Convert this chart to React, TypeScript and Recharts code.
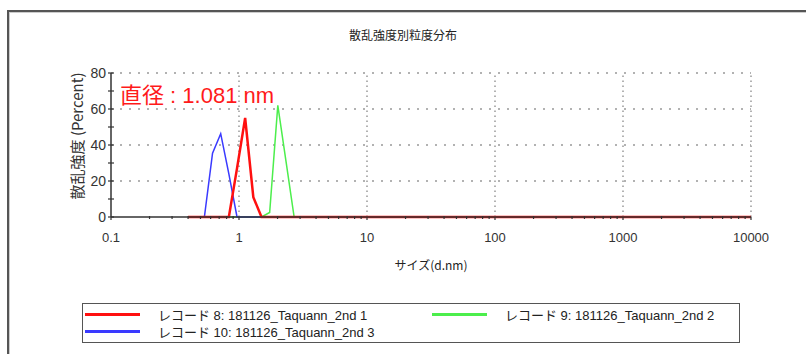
import React from 'react';
import { LineChart, Line, XAxis, YAxis, ReferenceLine } from 'recharts';

// particle size bins (d.nm) and scattering intensity (%) per record
const SIZES = [0.4, 0.4632, 0.5365, 0.6213, 0.7195, 0.8332, 0.9649, 1.117, 1.294, 1.499, 1.736, 2.01, 2.328, 2.696, 3.122, 10000];
const REC8 = [0, 0, 0, 0, 0, 0, 27, 55, 11, 0, 0, 0, 0, 0, 0, 0];
const REC9 = [0, 0, 0, 0, 0, 0, 0, 0, 0, 0, 2.5, 62, 31, 0, 0, 0];
const REC10 = [0, 0, 0, 35.5, 46.3, 24, 0, 0, 0, 0, 0, 0, 0, 0, 0, 0];

const X_DECADES = [0.1, 1, 10, 100, 1000, 10000];
const X_MINOR_STEPS = [2, 3, 4, 5, 6, 7, 8, 9];
const Y_TICKS = [0, 10, 20, 30, 40, 50, 60, 70, 80];
const Y_GRID = [20, 40, 60, 80];

const TITLE = '散乱強度別粒度分布';
const X_LABEL = 'サイズ(d.nm)';
const Y_LABEL = '散乱強度 (Percent)';
const NOTE = '直径 : 1.081 nm';

const SERIES = [
  { key: 'rec9', name: 'レコード 9: 181126_Taquann_2nd 2', color: '#4cee4c', width: 1.5 },
  { key: 'rec10', name: 'レコード 10: 181126_Taquann_2nd 3', color: '#3a3aff', width: 1.5 },
  { key: 'rec8', name: 'レコード 8: 181126_Taquann_2nd 1', color: '#ff1010', width: 2.5 },
];
const LEGEND_ORDER = ['rec8', 'rec9', 'rec10'];

const data = SIZES.map((size, i) => ({ size, rec8: REC8[i], rec9: REC9[i], rec10: REC10[i] }));

const xTicks = [
  ...X_DECADES,
  ...X_DECADES.slice(0, -1).flatMap(d => X_MINOR_STEPS.map(s => d * s)),
];

const FONT = "'Liberation Sans', 'Noto Sans CJK JP', Arial, sans-serif";
const CJK = "'Noto Sans CJK JP', 'Liberation Sans', sans-serif";

const XTick = (props: any) => {
  const { x, y, payload } = props;
  const major = X_DECADES.includes(payload.value);
  return (
    <g>
      <line x1={x} x2={x} y1={y - (major ? 0 : 1)} y2={y + (major ? 3 : 2)} stroke="#333" strokeWidth={1.2} />
      {major && (
        <text x={x} y={y + 25} textAnchor="middle" fill="#333" fontSize={13} fontFamily={FONT}>
          {payload.value}
        </text>
      )}
    </g>
  );
};

const YTick = (props: any) => {
  const { x, y, payload } = props;
  return (
    <g>
      <line x1={x - 3} x2={x + 3} y1={y} y2={y} stroke="#333" strokeWidth={1.2} />
      {payload.value % 20 === 0 && (
        <text x={x - 5} y={y + 5} textAnchor="end" fill="#333" fontSize={14} fontFamily={FONT}>
          {payload.value}
        </text>
      )}
    </g>
  );
};

export default function App() {
  const byKey = Object.fromEntries(SERIES.map(s => [s.key, s]));
  return (
    <div style={{ position: 'absolute', left: 0, top: 0, width: 806, height: 354, background: '#fff', overflow: 'hidden', fontFamily: FONT }}>
      <div style={{ position: 'absolute', left: 7, top: 10, width: 820, height: 360, borderLeft: '2px solid #555', borderTop: '2px solid #555', boxShadow: 'inset 1px 1px 0 #ccc' }} />
      <div style={{ position: 'absolute', left: 0, width: 806, top: 26, textAlign: 'center', fontSize: 12, color: '#222', fontFamily: CJK }}>{TITLE}</div>

      <div style={{ position: 'absolute', left: 0, top: 0 }}>
        <LineChart width={806} height={354} data={data} margin={{ top: 73, left: 71, right: 55, bottom: 97 }}>
          {Y_GRID.map(v => (
            <ReferenceLine key={'h' + v} y={v} stroke="#999" strokeDasharray="2 7" strokeWidth={1.5} />
          ))}
          {X_DECADES.slice(1).map(v => (
            <ReferenceLine key={'v' + v} x={v} stroke="#999" strokeDasharray="1.5 3.5" strokeWidth={1.5} />
          ))}
          <XAxis
            dataKey="size"
            type="number"
            scale="log"
            domain={[0.1, 10000]}
            allowDataOverflow
            ticks={xTicks}
            interval={0}
            height={40}
            tickSize={0}
            tickMargin={0}
            tickLine={false}
            tick={<XTick />}
            axisLine={{ stroke: '#333', strokeWidth: 1.5 }}
          />
          <YAxis
            type="number"
            domain={[0, 80]}
            ticks={Y_TICKS}
            interval={0}
            width={40}
            tickSize={0}
            tickMargin={0}
            tickLine={false}
            tick={<YTick />}
            axisLine={{ stroke: '#333', strokeWidth: 1.5 }}
          />
          {SERIES.map(s => (
            <Line
              key={s.key}
              type="linear"
              dataKey={s.key}
              name={s.name}
              stroke={s.color}
              strokeWidth={s.width}
              dot={false}
              isAnimationActive={false}
            />
          ))}
        </LineChart>
      </div>

      <div style={{ position: 'absolute', left: 76, top: 136, transform: 'translate(-50%, -50%) rotate(-90deg)', whiteSpace: 'nowrap', fontSize: 15, color: '#333', fontFamily: CJK }}>
        {Y_LABEL}
      </div>
      <div style={{ position: 'absolute', left: 111, width: 640, top: 256, textAlign: 'center', fontSize: 12, color: '#222', fontFamily: CJK }}>
        {X_LABEL}
      </div>
      <div style={{ position: 'absolute', left: 120, top: 77, fontSize: 22, color: '#ff1a1a', whiteSpace: 'nowrap', fontFamily: FONT }}>
        {NOTE}
      </div>

      <div style={{ position: 'absolute', left: 82, top: 303, width: 658, height: 40, border: '1.5px solid #555', boxSizing: 'border-box', display: 'grid', gridTemplateColumns: '347px 1fr', gridAutoRows: '17px', paddingTop: 2 }}>
        {LEGEND_ORDER.map(k => {
          const s = byKey[k];
          return (
            <div key={k} style={{ display: 'flex', alignItems: 'center', fontSize: 13, color: '#222', fontFamily: FONT, whiteSpace: 'nowrap' }}>
              <span style={{ display: 'inline-block', width: 55, height: 0, borderTop: `3px solid ${s.color}`, marginLeft: 2, marginRight: 18 }} />
              {s.name}
            </div>
          );
        })}
      </div>
    </div>
  );
}
